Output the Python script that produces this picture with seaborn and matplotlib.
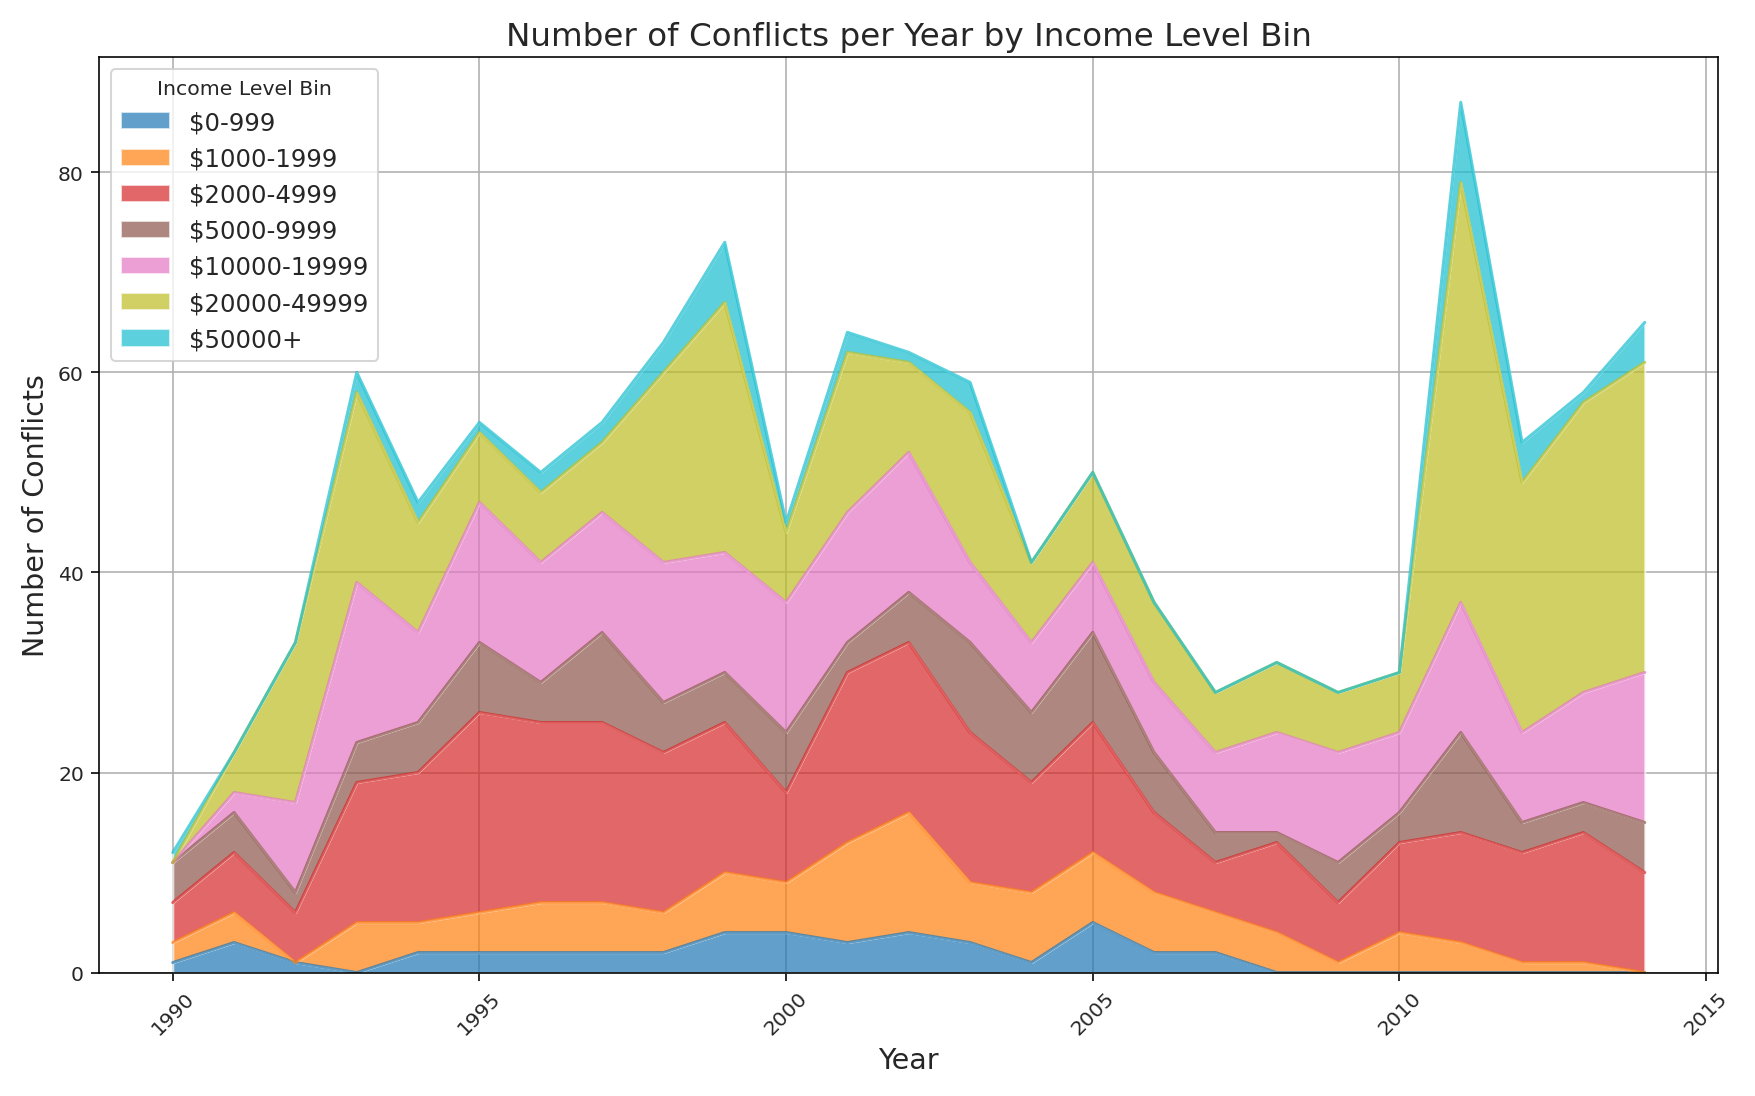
import numpy as np
import matplotlib
matplotlib.use("Agg")
import matplotlib.pyplot as plt
import seaborn as sns

years = list(range(1990, 2015))
bins = ["$0-999", "$1000-1999", "$2000-4999", "$5000-9999",
        "$10000-19999", "$20000-49999", "$50000+"]

# cumulative tops, per bin
cum_0 = [1, 3, 1, 0, 2, 2, 2, 2, 2, 4, 4, 3, 4, 3, 1, 5, 2, 2, 0, 0, 0, 0, 0, 0, 0]
cum_1 = [3, 6, 1, 5, 5, 6, 7, 7, 6, 10, 9, 13, 16, 9, 8, 12, 8, 6, 4, 1, 4, 3, 1, 1, 0]
cum_2 = [7, 12, 6, 19, 20, 26, 25, 25, 22, 25, 18, 30, 33, 24, 19, 25, 16, 11, 13, 7, 13, 14, 12, 14, 10]
cum_3 = [11, 16, 8, 23, 25, 33, 29, 34, 27, 30, 24, 33, 38, 33, 26, 34, 22, 14, 14, 11, 16, 24, 15, 17, 15]
cum_4 = [11, 18, 17, 39, 34, 47, 41, 46, 41, 42, 37, 46, 52, 41, 33, 41, 29, 22, 24, 22, 24, 37, 24, 28, 30]
cum_5 = [11, 22, 33, 58, 45, 54, 48, 53, 60, 67, 44, 62, 61, 56, 41, 50, 37, 28, 31, 28, 30, 79, 49, 57, 61]
cum_6 = [12, 22, 33, 60, 47, 55, 50, 55, 63, 73, 45, 64, 62, 59, 41, 50, 37, 28, 31, 28, 30, 87, 53, 58, 65]

cum = np.array([cum_0, cum_1, cum_2, cum_3, cum_4, cum_5, cum_6])
counts = np.diff(np.vstack([np.zeros(len(years)), cum]), axis=0)

sns.set_style("whitegrid")
colors = [plt.get_cmap("tab10")(i / 6) for i in range(7)]

fig, ax = plt.subplots(figsize=(12, 7.5), dpi=146.25)
ax.stackplot(years, counts, labels=bins, colors=colors, alpha=0.7)
for i in range(7):
    ax.plot(years, cum[i], color=colors[i], alpha=0.7, lw=1.5)

ax.set_title("Number of Conflicts per Year by Income Level Bin", fontsize=16)
ax.set_xlabel("Year", fontsize=14)
ax.set_ylabel("Number of Conflicts", fontsize=14)
ax.set_xticks([1990, 1995, 2000, 2005, 2010, 2015])
ax.tick_params(axis="x", rotation=45)
ax.set_xlim(1988.8, 2015.2)
ax.set_ylim(0, 91.5)
ax.grid(True, color="#b0b0b0", lw=0.8)
for s in ax.spines.values():
    s.set_color("black")
    s.set_linewidth(0.8)
ax.tick_params(left=True, bottom=True, color="black", length=4)
ax.legend(title="Income Level Bin", loc="upper left", fontsize=12, title_fontsize=10)
fig.tight_layout()
fig.savefig("out.png", dpi=146.25)
